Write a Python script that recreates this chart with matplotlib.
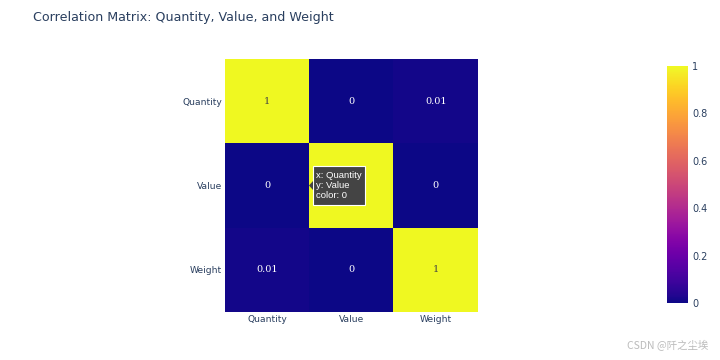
import matplotlib
matplotlib.use("Agg")
import matplotlib.pyplot as plt
import numpy as np
from matplotlib.patches import FancyBboxPatch, Polygon

plt.rcParams['font.family'] = ['DejaVu Sans', 'Noto Sans CJK SC']

labels = ["Quantity", "Value", "Weight"]
corr = [[1.0, 0.0, 0.01],
        [0.0, 1.0, 0.0],
        [0.01, 0.0, 1.0]]
display = [["1", "0", "0.01"],
           ["0", "1", "0"],
           ["0.01", "0", "1"]]
cbar_ticks = [0, 0.2, 0.4, 0.6, 0.8, 1]
cbar_labels = ["0", "0.2", "0.4", "0.6", "0.8", "1"]
hover = "x: Quantity\ny: Value\ncolor: 0"

txtc = "#2a3f5f"
fig = plt.figure(figsize=(7.2, 3.6), dpi=100)
ax = fig.add_axes([225/720, 1-312/360, 253/720, 253/360])
data = np.array(corr)
im = ax.imshow(data, cmap="plasma", vmin=0, vmax=1, aspect="auto",
               extent=(-0.5, 2.5, 2.5, -0.5), interpolation="nearest")
for i in range(3):
    for j in range(3):
        ax.text(j, i, display[i][j], ha="center", va="center",
                fontsize=7, family="DejaVu Serif",
                color="#444444" if corr[i][j] > 0.5 else "white", zorder=2)
ax.set_xticks(range(3))
ax.set_xticklabels(labels)
ax.set_yticks(range(3))
ax.set_yticklabels(labels)
ax.tick_params(length=0, labelsize=6.6, labelcolor=txtc, pad=2)
for s in ax.spines.values():
    s.set_visible(False)

cax = fig.add_axes([667/720, 1-303/360, 21/720, 237/360])
cb = fig.colorbar(im, cax=cax, ticks=cbar_ticks)
cb.ax.set_yticklabels(cbar_labels)
cb.outline.set_visible(False)
cb.ax.tick_params(length=0, labelsize=7, labelcolor=txtc, pad=3)

fig.text(33/720, 1-18/360, "Correlation Matrix: Quantity, Value, and Weight",
         fontsize=9.1, color=txtc, ha="left", va="center")

# hover tooltip
x0, y0, w, h = 313/720, 1-205/360, 52/720, 39/360
box = FancyBboxPatch((x0, y0), w, h, boxstyle="square,pad=0", transform=fig.transFigure,
                     facecolor="#444444", edgecolor="white", linewidth=0.8, zorder=5)
fig.add_artist(box)
tri = Polygon([(x0, 1-181/360), (309/720, 1-185.5/360), (x0, 1-190/360)], closed=True,
              transform=fig.transFigure, facecolor="#444444", edgecolor="none", zorder=6)
fig.add_artist(tri)
fig.text(x0 + 2.5/720, y0 + h/2, hover, fontsize=6.8, color="white", ha="left", va="center",
         linespacing=1.2, zorder=7, family="Liberation Sans")

fig.text(708/720, 1-346/360, "CSDN @阡之尘埃", fontsize=7.5, color="#bbbbbb",
         ha="right", va="center", family=["Noto Sans CJK SC", "DejaVu Sans"])

fig.savefig("out.png", dpi=100)
